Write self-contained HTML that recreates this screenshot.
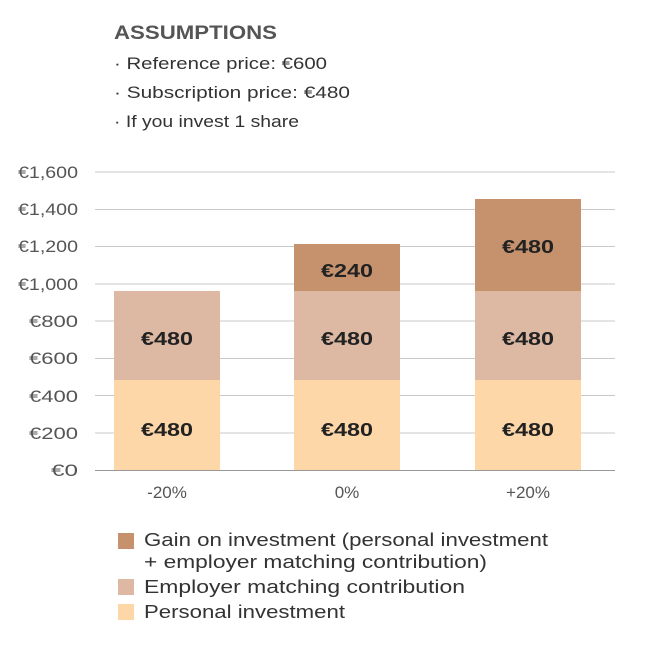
<!DOCTYPE html>
<html><head><meta charset="utf-8"><style>
body{margin:0;background:#fff;width:657px;height:657px;overflow:hidden}
svg text{font-family:"Liberation Sans",sans-serif}
</style></head><body>
<svg width="657" height="657" xmlns="http://www.w3.org/2000/svg">
<g lengthAdjust="spacingAndGlyphs">
<text x="114" y="39" font-size="19" font-weight="bold" fill="#555" textLength="163" lengthAdjust="spacingAndGlyphs">ASSUMPTIONS</text>
<text x="114" y="69" font-size="17" fill="#333" textLength="213" lengthAdjust="spacingAndGlyphs">· Reference price: €600</text>
<text x="114" y="98" font-size="17" fill="#333" textLength="236" lengthAdjust="spacingAndGlyphs">· Subscription price: €480</text>
<text x="114" y="127" font-size="17" fill="#333" textLength="185" lengthAdjust="spacingAndGlyphs">· If you invest 1 share</text>
</g>
<g stroke="#c8c8c8" stroke-width="1">
<line x1="95" x2="615" y1="172" y2="172"/><line x1="95" x2="615" y1="209.5" y2="209.5"/>
<line x1="95" x2="615" y1="246.5" y2="246.5"/><line x1="95" x2="615" y1="284" y2="284"/>
<line x1="95" x2="615" y1="321" y2="321"/><line x1="95" x2="615" y1="358.5" y2="358.5"/>
<line x1="95" x2="615" y1="395.5" y2="395.5"/><line x1="95" x2="615" y1="433" y2="433"/>
</g>
<g font-size="17" fill="#555" text-anchor="end">
<text x="78" y="178" textLength="60" lengthAdjust="spacingAndGlyphs">€1,600</text><text x="78" y="215" textLength="60" lengthAdjust="spacingAndGlyphs">€1,400</text><text x="78" y="252" textLength="60" lengthAdjust="spacingAndGlyphs">€1,200</text>
<text x="78" y="290" textLength="60" lengthAdjust="spacingAndGlyphs">€1,000</text><text x="78" y="327" textLength="49" lengthAdjust="spacingAndGlyphs">€800</text><text x="78" y="364" textLength="49" lengthAdjust="spacingAndGlyphs">€600</text>
<text x="78" y="402" textLength="49" lengthAdjust="spacingAndGlyphs">€400</text><text x="78" y="439" textLength="49" lengthAdjust="spacingAndGlyphs">€200</text><text x="78" y="476" textLength="27" lengthAdjust="spacingAndGlyphs">€0</text>
</g>
<g>
<rect x="114" y="380" width="106" height="90" fill="#FDD7A8"/>
<rect x="114" y="291" width="106" height="89" fill="#DDB8A2"/>
<rect x="294" y="380" width="106" height="90" fill="#FDD7A8"/>
<rect x="294" y="291" width="106" height="89" fill="#DDB8A2"/>
<rect x="294" y="244" width="106" height="47" fill="#C6926D"/>
<rect x="475" y="380" width="106" height="90" fill="#FDD7A8"/>
<rect x="475" y="291" width="106" height="89" fill="#DDB8A2"/>
<rect x="475" y="199" width="106" height="92" fill="#C6926D"/>
</g>
<line x1="95" x2="615" y1="470.5" y2="470.5" stroke="#999"/>
<g font-size="18" font-weight="bold" fill="#222" text-anchor="middle">
<text x="167" y="436" textLength="52" lengthAdjust="spacingAndGlyphs">€480</text><text x="167" y="345" textLength="52" lengthAdjust="spacingAndGlyphs">€480</text>
<text x="347" y="436" textLength="52" lengthAdjust="spacingAndGlyphs">€480</text><text x="347" y="345" textLength="52" lengthAdjust="spacingAndGlyphs">€480</text><text x="347" y="277" textLength="52" lengthAdjust="spacingAndGlyphs">€240</text>
<text x="528" y="436" textLength="52" lengthAdjust="spacingAndGlyphs">€480</text><text x="528" y="345" textLength="52" lengthAdjust="spacingAndGlyphs">€480</text><text x="528" y="253" textLength="52" lengthAdjust="spacingAndGlyphs">€480</text>
</g>
<g font-size="17" fill="#555" text-anchor="middle">
<text x="167" y="498">-20%</text><text x="347" y="498">0%</text><text x="528" y="498">+20%</text>
</g>
<rect x="118" y="533" width="16" height="16" fill="#C6926D"/>
<rect x="118" y="579" width="16" height="16" fill="#DDB8A2"/>
<rect x="118" y="604" width="16" height="16" fill="#FDD7A8"/>
<g font-size="18" fill="#333">
<text x="144" y="546" textLength="404" lengthAdjust="spacingAndGlyphs">Gain on investment (personal investment</text>
<text x="144" y="568" textLength="343" lengthAdjust="spacingAndGlyphs">+ employer matching contribution)</text>
<text x="144" y="593" textLength="321" lengthAdjust="spacingAndGlyphs">Employer matching contribution</text>
<text x="144" y="618" textLength="201" lengthAdjust="spacingAndGlyphs">Personal investment</text>
</g>
</svg>
</body></html>
